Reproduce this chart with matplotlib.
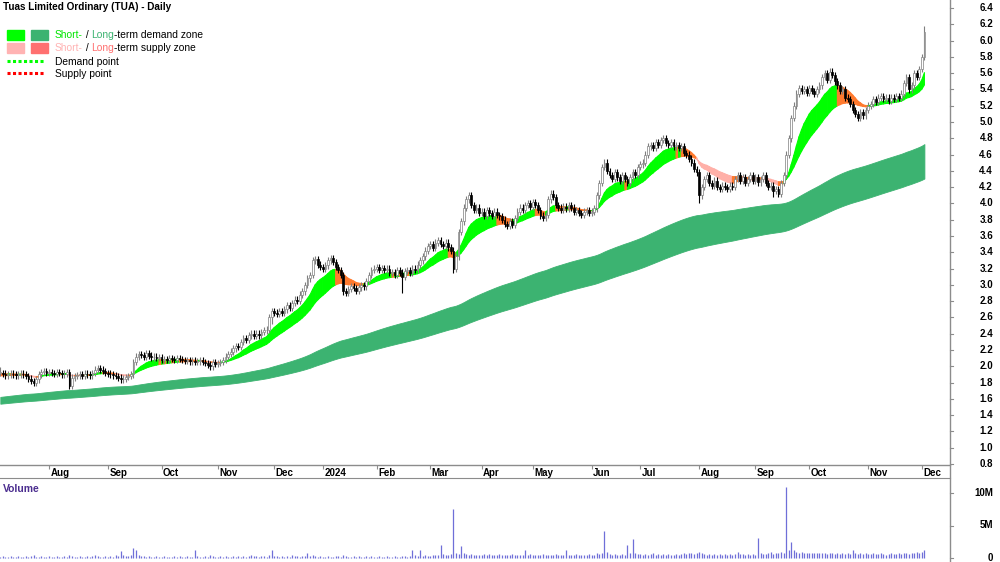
import numpy as np
import pandas as pd
import matplotlib
matplotlib.use("Agg")
import matplotlib.pyplot as plt
from matplotlib.collections import PolyCollection
import matplotlib.transforms as mtrans

plt.rcParams['font.family'] = ['Liberation Sans', 'DejaVu Sans']

# ---------------- data ----------------
title = "Tuas Limited Ordinary (TUA) - Daily"
start_date = "2023-07-05"
end_date = "2024-12-03"
holidays = ['2023-12-25', '2023-12-26', '2024-01-01', '2024-01-26',
            '2024-03-29', '2024-04-01', '2024-04-25', '2024-06-10']

close = [
    1.92, 1.91, 1.89, 1.90, 1.91, 1.90, 1.89, 1.90, 1.91, 1.90,
    1.88, 1.85, 1.82, 1.80, 1.84, 1.90, 1.93, 1.94, 1.92, 1.93,
    1.92, 1.91, 1.93, 1.92, 1.90, 1.91, 1.93, 1.76, 1.86, 1.88,
    1.89, 1.90, 1.88, 1.91, 1.90, 1.89, 1.92, 1.96, 1.98, 1.96,
    1.94, 1.92, 1.91, 1.90, 1.89, 1.88, 1.86, 1.84, 1.85, 1.87,
    1.88, 1.90, 2.05, 2.12, 2.15, 2.14, 2.12, 2.16, 2.13, 2.11,
    2.12, 2.10, 2.11, 2.08, 2.09, 2.08, 2.10, 2.09, 2.08, 2.10,
    2.09, 2.08, 2.07, 2.08, 2.06, 2.07, 2.05, 2.06, 2.08, 2.05,
    2.04, 2.02, 2.00, 2.05, 2.03, 2.04, 2.05, 2.08, 2.12, 2.15,
    2.18, 2.22, 2.25, 2.24, 2.30, 2.35, 2.32, 2.38, 2.40, 2.37,
    2.40, 2.38, 2.42, 2.44, 2.45, 2.60, 2.68, 2.66, 2.64, 2.68,
    2.66, 2.70, 2.75, 2.72, 2.78, 2.82, 2.80, 2.88, 2.92, 3.00,
    3.08, 3.12, 3.30, 3.32, 3.25, 3.22, 3.20, 3.24, 3.30, 3.33,
    3.28, 3.22, 3.18, 3.12, 2.92, 2.90, 2.95, 2.98, 2.96, 2.93,
    2.97, 3.00, 2.98, 3.05, 3.12, 3.18, 3.20, 3.22, 3.18, 3.21,
    3.18, 3.20, 3.15, 3.16, 3.12, 3.18, 3.15, 3.10, 3.17, 3.18,
    3.15, 3.20, 3.18, 3.25, 3.30, 3.35, 3.42, 3.48, 3.50, 3.45,
    3.52, 3.55, 3.50, 3.48, 3.52, 3.46, 3.42, 3.20, 3.35, 3.65,
    3.78, 3.95, 4.05, 4.10, 3.98, 3.92, 3.95, 3.88, 3.90, 3.85,
    3.92, 3.88, 3.85, 3.90, 3.86, 3.84, 3.80, 3.75, 3.72, 3.78,
    3.74, 3.82, 3.90, 3.95, 3.92, 3.98, 4.00, 3.96, 4.02, 3.98,
    3.92, 3.85, 3.82, 3.86, 4.05, 4.12, 4.08, 3.98, 3.95, 3.92,
    3.96, 3.94, 3.98, 3.95, 3.90, 3.92, 3.88, 3.86, 3.90, 3.92,
    3.88, 3.90, 3.94, 4.10, 4.25, 4.45, 4.50, 4.40, 4.35, 4.30,
    4.38, 4.32, 4.28, 4.35, 4.30, 4.25, 4.32, 4.38, 4.35, 4.45,
    4.48, 4.50, 4.60, 4.70, 4.72, 4.68, 4.75, 4.72, 4.78, 4.80,
    4.74, 4.72, 4.75, 4.70, 4.72, 4.68, 4.70, 4.62, 4.60, 4.55,
    4.50, 4.42, 4.38, 4.10, 4.20, 4.30, 4.35, 4.25, 4.22, 4.28,
    4.20, 4.18, 4.22, 4.20, 4.18, 4.22, 4.20, 4.30, 4.35, 4.28,
    4.32, 4.25, 4.30, 4.35, 4.28, 4.32, 4.26, 4.30, 4.35, 4.25,
    4.20, 4.22, 4.15, 4.18, 4.12, 4.25, 4.35, 4.60, 4.80, 5.05,
    5.20, 5.35, 5.42, 5.38, 5.40, 5.36, 5.42, 5.38, 5.35, 5.40,
    5.45, 5.55, 5.60, 5.52, 5.62, 5.58, 5.50, 5.45, 5.38, 5.40,
    5.30, 5.28, 5.22, 5.15, 5.10, 5.05, 5.12, 5.08, 5.15, 5.20,
    5.22, 5.28, 5.25, 5.30, 5.32, 5.28, 5.30, 5.26, 5.30, 5.28,
    5.32, 5.30, 5.35, 5.48, 5.55, 5.40, 5.45, 5.60, 5.55, 5.65,
    5.80, 6.10,
]

# notable long wicks: index -> (high, low)
wicks = {0: (1.99, None), 27: (None, 1.72), 106: (None, 2.52), 157: (None, 2.90),
         177: (None, 3.15), 273: (None, 4.00), 302: (None, 4.08), 361: (6.18, None)}

# volume in units of 100k shares
volume = [
    2, 3, 2, 2, 3, 2, 2, 3, 2, 2,
    3, 2, 3, 4, 2, 2, 3, 2, 2, 3,
    2, 2, 3, 2, 2, 3, 2, 5, 3, 2,
    2, 3, 2, 2, 3, 2, 3, 4, 3, 2,
    2, 3, 2, 3, 2, 4, 3, 11, 4, 3,
    3, 4, 15, 12, 5, 3, 3, 2, 3, 2,
    2, 3, 2, 2, 3, 2, 2, 2, 3, 2,
    3, 2, 2, 3, 2, 2, 13, 3, 2, 2,
    3, 2, 4, 3, 2, 2, 3, 2, 3, 2,
    2, 3, 2, 3, 2, 3, 2, 3, 4, 3,
    3, 2, 3, 3, 2, 4, 12, 3, 3, 2,
    3, 2, 3, 2, 4, 3, 3, 2, 3, 3,
    8, 3, 4, 3, 2, 3, 2, 2, 3, 2,
    2, 3, 3, 2, 4, 3, 2, 2, 3, 2,
    3, 2, 2, 3, 2, 3, 2, 2, 3, 2,
    2, 3, 2, 2, 3, 2, 2, 3, 3, 2,
    3, 13, 4, 3, 12, 3, 4, 3, 3, 5,
    4, 5, 20, 6, 5, 4, 6, 75, 8, 6,
    18, 7, 6, 5, 6, 5, 4, 5, 5, 6,
    5, 6, 5, 4, 5, 6, 5, 4, 5, 5,
    6, 5, 4, 5, 5, 12, 5, 6, 4, 5,
    5, 4, 6, 5, 5, 4, 5, 6, 5, 4,
    5, 12, 5, 4, 5, 6, 5, 4, 5, 5,
    6, 5, 5, 7, 6, 8, 42, 9, 6, 5,
    6, 5, 5, 6, 5, 20, 8, 30, 7, 6,
    6, 5, 6, 5, 6, 7, 5, 6, 5, 6,
    5, 6, 5, 5, 6, 5, 6, 7, 6, 8,
    7, 6, 8, 9, 7, 6, 5, 6, 5, 6,
    5, 6, 5, 6, 5, 6, 5, 6, 10, 6,
    6, 5, 6, 5, 6, 5, 31, 7, 6, 6,
    7, 10, 6, 8, 7, 9, 8, 110, 12, 25,
    12, 9, 8, 9, 8, 7, 8, 7, 8, 7,
    8, 7, 7, 6, 8, 7, 6, 7, 6, 7,
    6, 7, 6, 12, 7, 6, 7, 6, 7, 6,
    6, 7, 6, 6, 7, 6, 5, 6, 7, 6,
    6, 7, 6, 8, 7, 6, 7, 8, 9, 8,
    9, 12,
]

short_spans = (12, 26)
short_seed = (1.91, 1.88)
long_spans = (145, 230)
long_seed = (1.62, 1.537)

y_ticks = [round(0.8 + 0.2 * k, 1) for k in range(29)]
vol_ticks = [0, 5, 10]
vol_tick_labels = ["0", "5M", "10M"]

# ---------------- helpers ----------------
def ema(vals, span, seed):
    a = 2.0 / (span + 1)
    e = seed
    out = []
    for v in vals:
        e = e + a * (v - e)
        out.append(e)
    return np.array(out)

close = np.array(close)
n = len(close)
x = np.arange(n)
opn = np.concatenate([[close[0]], close[:-1]])

dates = pd.bdate_range(start_date, end_date)
dates = dates[~dates.isin(pd.to_datetime(holidays))][:n]

W, H = 1000, 562
fig = plt.figure(figsize=(10, 5.62), dpi=100)
fig.patch.set_facecolor('white')

ax = fig.add_axes([0, (H - 465) / H, 950 / W, 465 / H])
axv = fig.add_axes([0, 1 / H, 950 / W, (H - 478 - 1) / H])

XL = (-0.125, 371.0)
ax.set_xlim(*XL)
ax.set_ylim(6.4 - 457 / 81.43, 6.4 + 8 / 81.43)

# long-term ribbon
lf = ema(close, long_spans[0], long_seed[0])
ls = ema(close, long_spans[1], long_seed[1])
ax.fill_between(x, np.minimum(lf, ls), np.maximum(lf, ls), color='#3CB371',
                linewidth=0.6, edgecolor='#3CB371', zorder=1)

# short-term ribbon: green = fast above slow and rising, pink = fast below
# slow and falling, orange = mixed
sf = ema(close, short_spans[0], short_seed[0])
ss = ema(close, short_spans[1], short_seed[1])
polys, cols = [], []
for i in range(1, n):
    above = sf[i] >= ss[i]
    rising = sf[i] >= sf[i - 1]
    if above and rising:
        c = '#00FF00'
    elif (not above) and (not rising):
        c = '#FFB0A8'
    else:
        c = '#FF7A2E'
    polys.append([(i - 1, sf[i - 1]), (i, sf[i]), (i, ss[i]), (i - 1, ss[i - 1])])
    cols.append(c)
pc = PolyCollection(polys, facecolors=cols, edgecolors=cols, linewidths=0.8, zorder=2)
ax.add_collection(pc)

# candles
hi = np.maximum(opn, close) + 0.04
lo = np.minimum(opn, close) - 0.04
for k, (h, l) in wicks.items():
    if k < n:
        if h is not None:
            hi[k] = h
        if l is not None:
            lo[k] = l
up = close >= opn
for mask, face, edge in [(up, 'white', '#7f7f7f'), (~up, 'black', 'black')]:
    ax.vlines(x[mask], lo[mask], hi[mask], color=edge, linewidth=0.8, zorder=3)
    body_lo = np.minimum(opn, close)[mask]
    body_h = np.maximum(np.abs(close - opn)[mask], 0.008)
    ax.bar(x[mask], body_h, bottom=body_lo, width=0.7, color=face,
           edgecolor=edge, linewidth=0.5, zorder=4)

for s in ['top', 'left', 'right']:
    ax.spines[s].set_visible(False)
ax.spines['bottom'].set_color('#8c8c8c')
ax.spines['bottom'].set_linewidth(1.0)
ax.set_yticks([])

# month ticks
month_idx, month_lab = [], []
for i in range(1, n):
    if dates[i].month != dates[i - 1].month:
        month_idx.append(i)
        month_lab.append('2024' if dates[i].month == 1 else dates[i].strftime('%b'))
ax.set_xticks(month_idx)
ax.set_xticklabels([])
ax.tick_params(axis='x', direction='out', length=3, color='#8c8c8c', width=0.8)
tr_lab = mtrans.blended_transform_factory(ax.transData, fig.transFigure)
off = mtrans.ScaledTranslation(1.5 / 100, 0, fig.dpi_scale_trans)
for i, lab in zip(month_idx, month_lab):
    fig.text(i, 1 - 473 / H, lab, transform=tr_lab + off, ha='left', va='center',
             fontsize=7, fontweight='bold', color='black')

# right price labels
tr_y = mtrans.blended_transform_factory(fig.transFigure, ax.transData)
for v in y_ticks:
    ax.plot([950 / W, 953 / W], [v, v], transform=tr_y, color='#8c8c8c', lw=0.8,
            clip_on=False)
    fig.text(993 / W, v, f"{v:.1f}", transform=tr_y, ha='right', va='center',
             fontsize=7, fontweight='bold')

# volume panel
vol = np.array(volume) / 10.0  # millions
axv.set_xlim(*XL)
axv.set_ylim(-(561 - 558) / 6.5, (558 - 478) / 6.5)
axv.vlines(x, 0, vol, color='#6f6fd8', linewidth=0.9)
for s in ['bottom', 'left', 'right']:
    axv.spines[s].set_visible(False)
axv.spines['top'].set_color('#8c8c8c')
axv.set_xticks([])
axv.set_yticks([])
tr_v = mtrans.blended_transform_factory(fig.transFigure, axv.transData)
for v, lab in zip(vol_ticks, vol_tick_labels):
    axv.plot([950 / W, 953 / W], [v, v], transform=tr_v, color='#8c8c8c', lw=0.8,
             clip_on=False)
    fig.text(993 / W, v, lab, transform=tr_v, ha='right', va='center',
             fontsize=7, fontweight='bold')
fig.text(3 / W, 1 - 489 / H, "Volume", ha='left', va='center', fontsize=7.5,
         fontweight='bold', color='#4B2D8F')

# right vertical axis line across panels
fig.add_artist(plt.Line2D([950 / W, 950 / W], [0, 1], transform=fig.transFigure,
                          color='#8c8c8c', lw=1.0))

# title and legend
fig.text(3 / W, 1 - 7 / H, title, ha='left', va='center', fontsize=7.2,
         fontweight='bold')

renderer = fig.canvas.get_renderer()

def seq_text(x_px, y_px, parts, size=7.4):
    xp = x_px
    for s, col in parts:
        t = fig.text(xp / W, 1 - y_px / H, s, color=col, ha='left', va='center',
                     fontsize=size)
        xp += t.get_window_extent(renderer).width

fig.add_artist(plt.Rectangle((7 / W, 1 - 40 / H), 17 / W, 10 / H, color='#00FF00',
                             transform=fig.transFigure))
fig.add_artist(plt.Rectangle((31 / W, 1 - 40 / H), 17 / W, 10 / H, color='#3CB371',
                             transform=fig.transFigure))
fig.add_artist(plt.Rectangle((7 / W, 1 - 53 / H), 17 / W, 10 / H, color='#FFB3B3',
                             transform=fig.transFigure))
fig.add_artist(plt.Rectangle((31 / W, 1 - 53 / H), 17 / W, 10 / H, color='#FF7070',
                             transform=fig.transFigure))
fig.add_artist(plt.Line2D([7 / W, 45 / W], [1 - 61 / H] * 2, transform=fig.transFigure,
                          color='#00FF00', lw=2.2, linestyle=(0, (1, 0.8))))
fig.add_artist(plt.Line2D([7 / W, 45 / W], [1 - 73 / H] * 2, transform=fig.transFigure,
                          color='#FF0000', lw=2.2, linestyle=(0, (1, 0.8))))
seq_text(55, 35, [("Short-", '#00E600'), (" / ", 'black'), ("Long", '#3CB371'),
                  ("-term demand zone", 'black')])
seq_text(55, 48, [("Short-", '#FFB3B3'), (" / ", 'black'), ("Long", '#FF7070'),
                  ("-term supply zone", 'black')])
seq_text(55, 62, [("Demand point", 'black')])
seq_text(55, 74, [("Supply point", 'black')])

fig.savefig("out.png", dpi=100, facecolor='white')
